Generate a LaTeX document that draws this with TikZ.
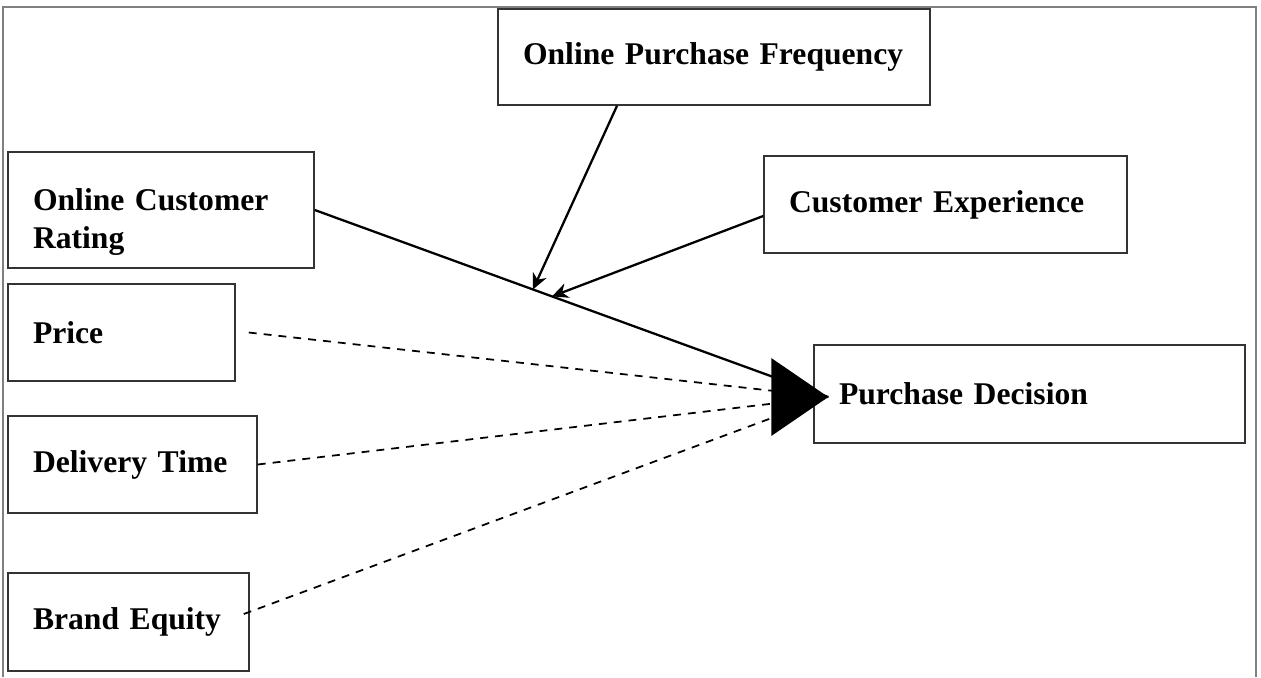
\documentclass[tikz,border=0pt]{standalone}
\usepackage{fontspec}
\setmainfont{Liberation Serif}
\usetikzlibrary{arrows.meta,calc}

\begin{document}
\begin{tikzpicture}[x=0.02cm, y=-0.02cm,
	factor/.style={draw=black!80, line width=0.9pt, rectangle, align=left, inner xsep=0.5cm, inner ysep=0pt, minimum height=1.94cm, font=\bfseries\fontsize{18}{21.5}\selectfont},
	link/.style={line width=1.3pt, -{Stealth[length=0.32cm, width=0.3cm]}},
	weak/.style={line width=1pt, dash pattern=on 4.5pt off 4pt}]
	\useasboundingbox (0,0) rectangle (1261,677);
	% outer frame, open at the bottom
	\draw[gray, line width=0.8pt] (3,677) -- (3,7) -- (1256,7) -- (1256,677);

	% factors
	\node[factor, text width=7.64cm, minimum height=1.92cm] (opf) at (714,57) {Online Purchase Frequency};
	\node[factor, text width=5.12cm, minimum height=2.32cm, text depth=0.42cm] (ocr) at (161,210) {Online Customer Rating};
	\node[factor, text width=6.26cm] (ce) at (945.5,204.5) {Customer Experience};
	\node[factor, text width=3.54cm] (price) at (121.5,332.5) {Price};
	\node[factor, text width=3.98cm] (delivery) at (132.5,464.5) {Delivery Time};
	\node[factor, text width=7.62cm, minimum height=1.96cm] (pd) at (1029.5,394) {Purchase Decision};
	\node[factor, text width=3.82cm, minimum height=1.96cm] (brand) at (128.5,622) {Brand Equity};

	\coordinate (tip) at ($(pd.west)+(15,3)$);
	\coordinate (j1) at ($(ocr.east)!0.425!(tip)$);
	\coordinate (j2) at ($(ocr.east)!0.462!(tip)$);

	% main path and moderators
	\draw[line width=1.3pt] (ocr.east) -- (tip);
	\draw[link] ([xshift=-1.94cm]opf.south) -- (j1);
	\draw[link] ([yshift=-0.23cm]ce.west) -- (j2);

	% control variables
	\draw[weak] ([xshift=0.26cm]price.east) -- (tip);
	\draw[weak] (delivery.east) -- (tip);
	\draw[weak] ([xshift=-0.12cm, yshift=0.16cm]brand.east) -- (tip);

	% big head in front of the outcome
	\fill (tip) -- ($(pd.west)+(-42,-36)$) -- ($(pd.west)+(-42,42)$) -- cycle;
\end{tikzpicture}
\end{document}
